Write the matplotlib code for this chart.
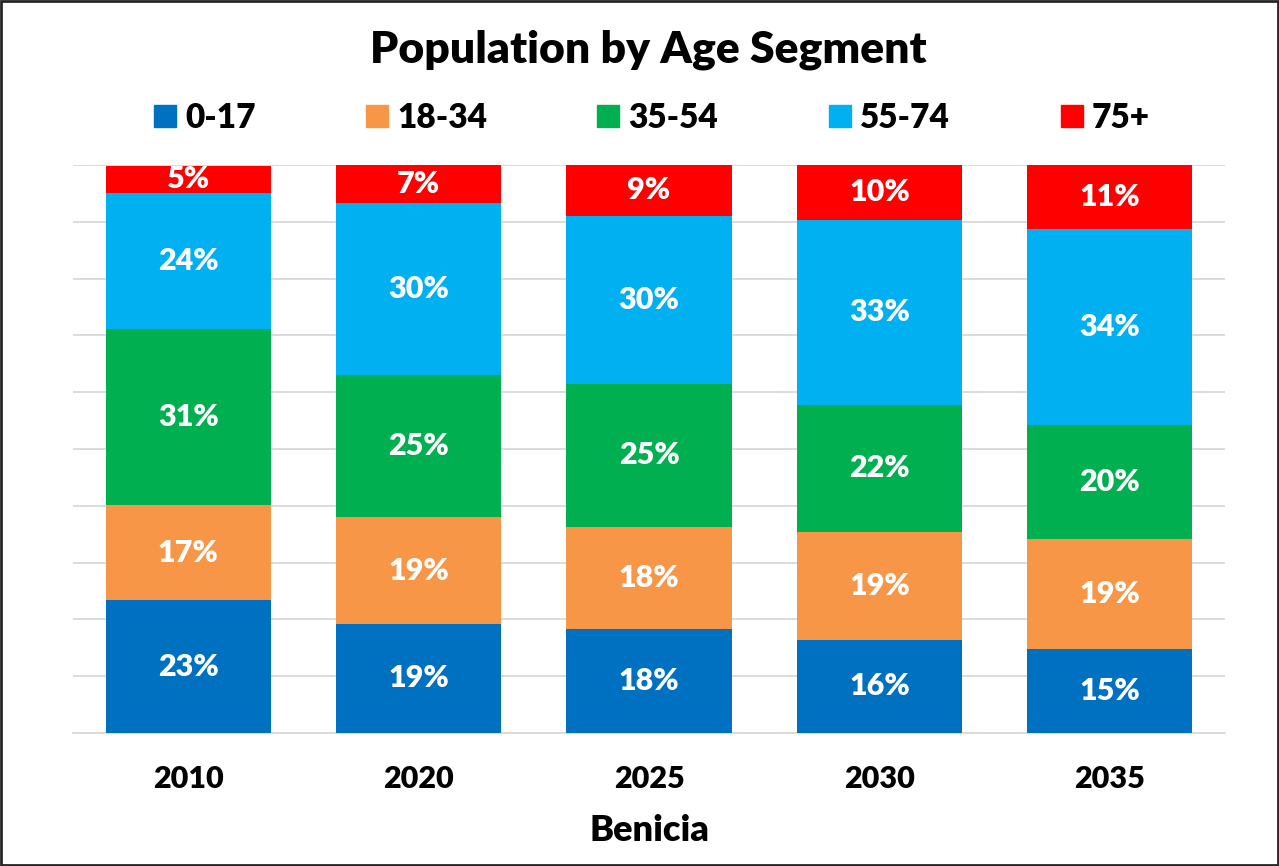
import numpy as np
import matplotlib
matplotlib.use("Agg")
import matplotlib.pyplot as plt
from matplotlib.lines import Line2D

plt.rcParams["font.family"] = ["Lato", "DejaVu Sans"]
plt.rcParams["font.weight"] = "bold"

# data (share of population, %)
years = ["2010", "2020", "2025", "2030", "2035"]
segments = ["0-17", "18-34", "35-54", "55-74", "75+"]
age_0_17 = [23.4, 19.2, 18.3, 16.4, 14.7]
age_18_34 = [16.7, 18.8, 18.0, 19.0, 19.4]
age_35_54 = [31.0, 25.0, 25.2, 22.4, 20.2]
age_55_74 = [23.9, 30.3, 29.6, 32.6, 34.5]
age_75_up = [4.9, 6.7, 9.0, 9.7, 11.2]
colors = ["#0070C0", "#F79646", "#00B050", "#00B0F0", "#FF0000"]

series = [age_0_17, age_18_34, age_35_54, age_55_74, age_75_up]

fig = plt.figure(figsize=(12.79, 8.66), dpi=100)
ax = fig.add_axes([0.0571, 0.1536, 0.9007, 0.6559])

x = np.arange(len(years))
bottom = np.zeros(len(years))
for vals, col in zip(series, colors):
    vals = np.array(vals) / 100.0
    ax.bar(x, vals, width=0.717, bottom=bottom, color=col, zorder=3)
    for xi, b, v in zip(x, bottom, vals):
        ax.text(xi, b + v / 2, f"{v:.0%}", ha="center", va="center",
                color="white", fontsize=22, fontweight="heavy", zorder=4)
    bottom += vals

ax.set_xlim(-0.5, len(years) - 0.5)
ax.set_ylim(0, 1.0)
ax.set_yticks(np.linspace(0, 1, 11))
ax.set_yticklabels([])
ax.tick_params(axis="y", length=0)
ax.tick_params(axis="x", length=0, pad=23)
ax.set_xticks(x)
ax.set_xticklabels(years, fontsize=22, fontweight="heavy")
ax.grid(axis="y", color="#D9D9D9", lw=1.3, zorder=0)
for s in ["top", "right", "left"]:
    ax.spines[s].set_visible(False)
ax.spines["bottom"].set_color("#D9D9D9")
ax.spines["bottom"].set_linewidth(1.3)
ax.set_xlabel("Benicia", fontsize=26, fontweight="heavy", labelpad=15)

fig.suptitle("Population by Age Segment", fontsize=32, fontweight="heavy",
             x=0.507, y=0.966)

# legend: one entry per slot, like the spreadsheet layout
legend_x = [0.1173, 0.2830, 0.4637, 0.6450, 0.8264]
for lx, lab, col in zip(legend_x, segments, colors):
    h = Line2D([], [], marker="s", ls="", color=col, markersize=16)
    lg = fig.legend([h], [lab], loc="center left", bbox_to_anchor=(lx, 0.864),
                    frameon=False, fontsize=24, handletextpad=0.15,
                    handlelength=0.9, borderpad=0, borderaxespad=0)
    for t in lg.get_texts():
        t.set_fontweight("heavy")

# chart border
fig.patches.append(plt.Rectangle((0.001, 0.001), 0.998, 0.998, transform=fig.transFigure,
                                 fill=False, edgecolor="#262626", lw=2))

fig.savefig("out.png", dpi=100)
